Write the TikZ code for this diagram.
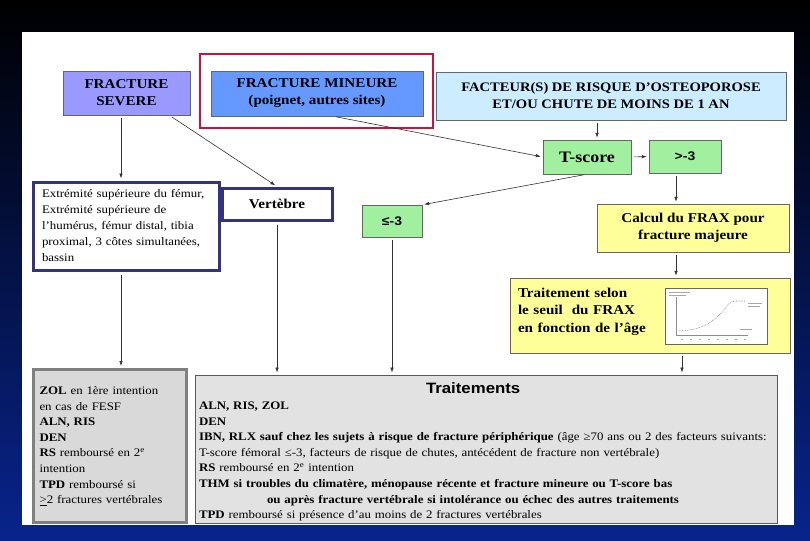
\documentclass[tikz,border=0pt]{standalone}
\usepackage{fontspec}
\setmainfont[FakeStretch=1.12]{Liberation Serif}
\setsansfont[FakeStretch=1.12]{Liberation Sans}
\usetikzlibrary{arrows.meta}

\definecolor{bgblue}{RGB}{8,36,140}
\definecolor{severefill}{RGB}{153,153,255}
\definecolor{mineurefill}{RGB}{102,153,255}
\definecolor{facteurfill}{RGB}{204,236,255}
\definecolor{framered}{RGB}{200,20,60}
\definecolor{tgreen}{RGB}{160,240,160}
\definecolor{tyellow}{RGB}{255,255,153}
\definecolor{navyline}{RGB}{51,51,128}
\definecolor{greyline}{RGB}{128,128,128}
\definecolor{greyfill}{RGB}{217,217,217}
\definecolor{trtfill}{RGB}{226,226,226}

\tikzset{
  box/.style={draw=black!60, thin, inner sep=2pt, align=center},
  headbox/.style={box, font=\bfseries\fontsize{13.5}{17}\selectfont},
  greenbox/.style={box, fill=tgreen},
  yellowbox/.style={box, fill=tyellow, font=\bfseries\fontsize{13.5}{17.5}\selectfont},
  navybox/.style={draw=navyline, line width=3pt, fill=white},
  greybox/.style={draw=greyline, line width=3pt, fill=greyfill, align=left},
  flow/.style={->, draw=black!80, line width=0.6pt, shorten <=3pt, shorten >=2pt},
}

\begin{document}
\hyphenpenalty=10000
\begin{tikzpicture}[x=1pt, y=-1pt, >={Latex[length=5pt,width=3.5pt]}]
  \useasboundingbox (0,0) rectangle (810,540);
  % slide background
  \shade[top color=black, bottom color=bgblue] (0,0) rectangle (810,540);
  \fill[white] (22,32) rectangle (794,525);

  % entry boxes
  \node[headbox, fill=severefill, minimum width=127, minimum height=44] (severe) at (126.5,93) {FRACTURE\\SEVERE};
  \node[draw=framered, line width=2pt, minimum width=233, minimum height=74] (focus) at (316.5,91) {};
  \node[headbox, fill=mineurefill, minimum width=212, minimum height=45] (mineure) at (317,93.5) {FRACTURE MINEURE\\(poignet, autres sites)};
  \node[headbox, fill=facteurfill, minimum width=350, minimum height=48, font=\bfseries\fontsize{13}{17}\selectfont] (facteur) at (611,96) {FACTEUR(S) DE RISQUE D’OSTEOPOROSE\\ET/OU CHUTE DE MOINS DE 1 AN};

  % T-score branch
  \node[greenbox, minimum width=88, minimum height=34, font=\bfseries\fontsize{16}{18}\selectfont] (tscore) at (587,157) {T-score};
  \node[greenbox, minimum width=72, minimum height=33, font=\sffamily\bfseries\fontsize{12.5}{14}\selectfont] (gt) at (685,156.5) {>-3};
  \node[greenbox, minimum width=60, minimum height=32, font=\sffamily\bfseries\fontsize{12.5}{14}\selectfont] (le) at (392,221) {≤-3};
  \node[yellowbox, minimum width=192, minimum height=48] (frax) at (693,228) {Calcul du FRAX pour\\fracture majeure};
  \node[yellowbox, minimum width=280, minimum height=75, text width=264, align=left] (seuil) at (650,315.5) {Traitement selon\\le seuil\ \ du FRAX\\en fonction de l’âge\rule[-11pt]{0pt}{0pt}};

  % small FRAX chart
  \draw[black!60, fill=white] (665,288) rectangle (767,344);
  \draw[black!45, line width=0.3pt] (676,297) -- (676,335) -- (748,335);
  \draw[black!55, densely dotted, line width=0.6pt] (679,331) .. controls (700,330) and (712,324) .. (724,310) .. controls (729,303) .. (735,301) -- (746,301);
  \draw[black!35, line width=0.8pt] (669,292) -- (690,292) (669,295) -- (686,295) (748,303) -- (762,303) (748,306) -- (760,306) (740,329) -- (752,329);
  \foreach \t in {681,690,...,744}
    \draw[black!35, line width=0.6pt] (\t,339) -- (\t+2,339);

  % fracture sites
  \node[navybox, minimum width=186, minimum height=88, text width=168, align=left, font=\fontsize{11.5}{16}\selectfont] (site) at (126,226) {Extrémité supérieure du fémur,\\Extrémité supérieure de\\l’humérus, fémur distal, tibia\\proximal, 3 côtes simultanées,\\bassin};
  \node[navybox, minimum width=110, minimum height=32, font=\bfseries\fontsize{13.5}{16}\selectfont] (vertebre) at (277,204) {Vertèbre};

  % treatment boxes
  \node[greybox, minimum width=153, minimum height=153, text width=140, font=\fontsize{11.5}{15.6}\selectfont] (zol) at (109.5,446) {\textbf{ZOL} en 1ère intention\\en cas de FESF\\\textbf{ALN, RIS}\\\textbf{DEN}\\\textbf{RS} remboursé en 2\textsuperscript{e}\\intention\\\textbf{TPD} remboursé si\\\underline{>}2 fractures vertébrales};
  \node[draw=black!65, line width=0.8pt, fill=trtfill, minimum width=582, minimum height=148, inner sep=0pt, text width=574, align=left, font=\fontsize{11.5}{15.6}\selectfont] (trt) at (486,449) {\rule{0pt}{17pt}\hspace*{227pt}{\sffamily\bfseries\fontsize{15}{15.6}\selectfont Traitements}\\
    \textbf{ALN, RIS, ZOL}\\
    \textbf{DEN}\\
    \textbf{IBN, RLX sauf chez les sujets à risque de fracture périphérique} (âge ≥70 ans ou 2 des facteurs suivants:\\
    T-score fémoral ≤-3, facteurs de risque de chutes, antécédent de fracture non vertébrale)\\
    \textbf{RS} remboursé en 2\textsuperscript{e} intention\\
    \textbf{THM si troubles du climatère, ménopause récente et fracture mineure ou T-score bas}\\
    \hspace*{68pt}\textbf{ou après fracture vertébrale si intolérance ou échec des autres traitements}\\
    \textbf{TPD} remboursé si présence d’au moins de 2 fractures vertébrales};

  % connectors
  \coordinate (xf) at (597,0);
  \coordinate (xa) at (676,0);
  \coordinate (xb) at (682,0);
  \coordinate (xs) at (121,0);
  \draw[flow] (xs |- severe.south) -- (xs |- site.north);
  \draw[flow] ([xshift=-21pt]severe.south east) -- (vertebre.north);
  \draw[flow] ([xshift=16pt]mineure.south) -- (tscore.west);
  \draw[flow] (xf |- facteur.south) -- (xf |- tscore.north);
  \draw[flow] (tscore.east) -- (gt.west);
  \draw[flow] (tscore.south) -- (le.north east);
  \draw[flow] (xa |- gt.south) -- (xa |- frax.north);
  \draw[flow] (xa |- frax.south) -- (xa |- seuil.north);
  \draw[flow] (xb |- seuil.south) -- (xb |- trt.north);
  \draw[flow] (xs |- site.south) -- (xs |- zol.north);
  \draw[flow] (vertebre.south) -- (vertebre.south |- trt.north);
  \draw[flow] (le.south) -- (le.south |- trt.north);
\end{tikzpicture}
\end{document}
